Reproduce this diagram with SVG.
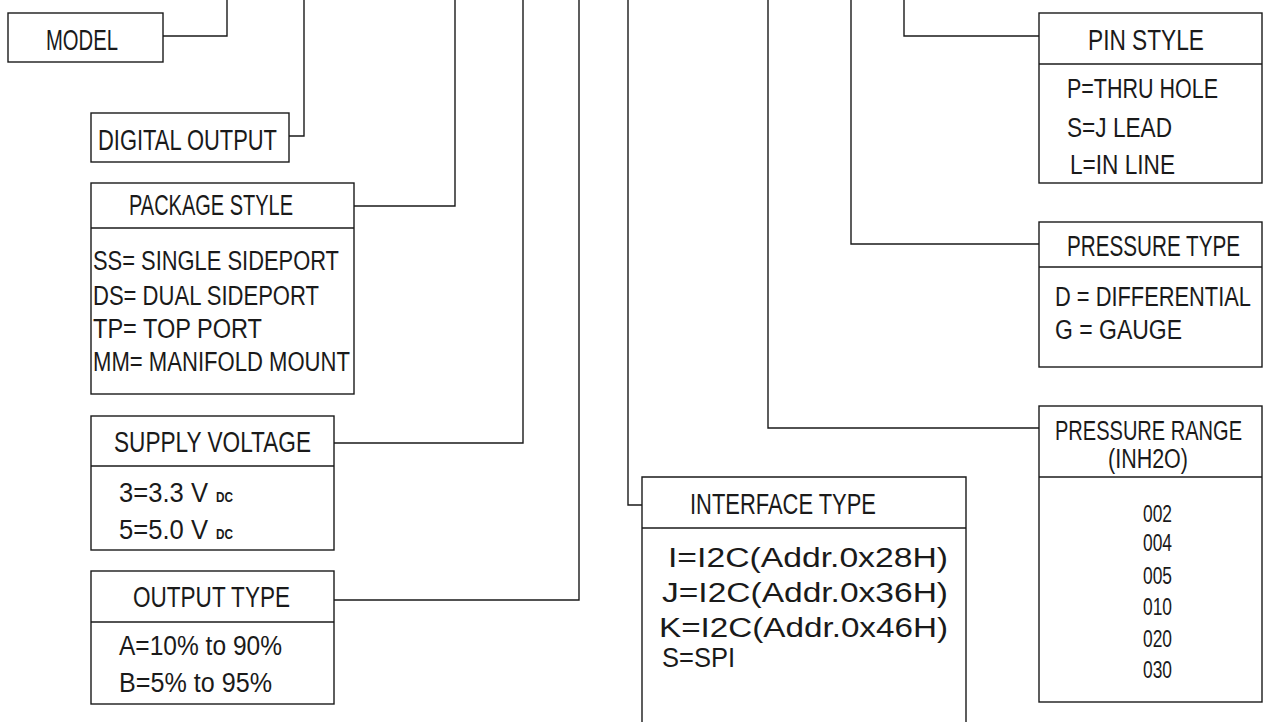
<svg xmlns="http://www.w3.org/2000/svg" width="1264" height="722" viewBox="0 0 1264 722">
<style>
.box{fill:none;stroke:#1a1a1a;stroke-width:1.4}
.ln{fill:none;stroke:#1a1a1a;stroke-width:1.4}
text{font-family:"Liberation Sans",Arial,sans-serif;fill:#1a1a1a}
.h{font-size:29px}
.hr{font-size:27px}
.b{font-size:27px}
.s{font-size:27px}
.n{font-size:23px}
.dc{font-size:14px;font-weight:bold}
</style>
<rect width="1264" height="722" fill="#ffffff"/>
<g id="connectors">
<polyline class="ln" points="163,36 227,36 227,0"/>
<polyline class="ln" points="289,136 304,136 304,0"/>
<polyline class="ln" points="354,206 455,206 455,0"/>
<polyline class="ln" points="334,443 523,443 523,0"/>
<polyline class="ln" points="334,600 579,600 579,0"/>
<polyline class="ln" points="642,505 628,505 628,0"/>
<polyline class="ln" points="1039,428 768,428 768,0"/>
<polyline class="ln" points="1039,244 851,244 851,0"/>
<polyline class="ln" points="1039,36 904,36 904,0"/>
</g>
<g id="model">
<rect class="box" x="8" y="13" width="155" height="49"/>
<text class="h" x="46" y="50" textLength="72" lengthAdjust="spacingAndGlyphs">MODEL</text>
</g>
<g id="digital-output">
<rect class="box" x="91" y="113" width="198" height="49"/>
<text class="h" x="98" y="150" textLength="179" lengthAdjust="spacingAndGlyphs">DIGITAL OUTPUT</text>
</g>
<g id="package-style">
<rect class="box" x="91" y="183" width="263" height="211"/>
<line class="ln" x1="91" y1="228" x2="354" y2="228"/>
<text class="h" x="129" y="215" textLength="164" lengthAdjust="spacingAndGlyphs">PACKAGE STYLE</text>
<text class="b" x="93" y="270" textLength="246" lengthAdjust="spacingAndGlyphs">SS= SINGLE SIDEPORT</text>
<text class="b" x="93" y="305" textLength="226" lengthAdjust="spacingAndGlyphs">DS= DUAL SIDEPORT</text>
<text class="b" x="93" y="338" textLength="169" lengthAdjust="spacingAndGlyphs">TP= TOP PORT</text>
<text class="b" x="93" y="371" textLength="257" lengthAdjust="spacingAndGlyphs">MM= MANIFOLD MOUNT</text>
</g>
<g id="supply-voltage">
<rect class="box" x="91" y="416" width="243" height="134"/>
<line class="ln" x1="91" y1="466" x2="334" y2="466"/>
<text class="h" x="114" y="452" textLength="197" lengthAdjust="spacingAndGlyphs">SUPPLY VOLTAGE</text>
<text class="b" x="119" y="502" textLength="89" lengthAdjust="spacingAndGlyphs">3=3.3 V</text>
<text class="dc" x="216" y="502" textLength="17" lengthAdjust="spacingAndGlyphs">DC</text>
<text class="b" x="119" y="539" textLength="89" lengthAdjust="spacingAndGlyphs">5=5.0 V</text>
<text class="dc" x="216" y="539" textLength="17" lengthAdjust="spacingAndGlyphs">DC</text>
</g>
<g id="output-type">
<rect class="box" x="91" y="571" width="243" height="133"/>
<line class="ln" x1="91" y1="622" x2="334" y2="622"/>
<text class="h" x="133" y="607" textLength="157" lengthAdjust="spacingAndGlyphs">OUTPUT TYPE</text>
<text class="b" x="119" y="655" textLength="163" lengthAdjust="spacingAndGlyphs">A=10% to 90%</text>
<text class="b" x="119" y="692" textLength="153" lengthAdjust="spacingAndGlyphs">B=5% to 95%</text>
</g>
<g id="interface-type">
<polyline class="ln" points="642,730 642,477 966,477 966,730"/>
<line class="ln" x1="642" y1="528" x2="966" y2="528"/>
<text class="h" x="690" y="514" textLength="186" lengthAdjust="spacingAndGlyphs">INTERFACE TYPE</text>
<text class="s" x="668" y="567" textLength="280" lengthAdjust="spacingAndGlyphs">I=I2C(Addr.0x28H)</text>
<text class="s" x="662" y="602" textLength="286" lengthAdjust="spacingAndGlyphs">J=I2C(Addr.0x36H)</text>
<text class="s" x="659" y="637" textLength="289" lengthAdjust="spacingAndGlyphs">K=I2C(Addr.0x46H)</text>
<text class="s" x="662" y="667" textLength="73" lengthAdjust="spacingAndGlyphs">S=SPI</text>
</g>
<g id="pin-style">
<rect class="box" x="1039" y="13" width="223" height="170"/>
<line class="ln" x1="1039" y1="64" x2="1262" y2="64"/>
<text class="h" x="1088" y="50" textLength="116" lengthAdjust="spacingAndGlyphs">PIN STYLE</text>
<text class="b" x="1067" y="98" textLength="151" lengthAdjust="spacingAndGlyphs">P=THRU HOLE</text>
<text class="b" x="1067" y="137" textLength="105" lengthAdjust="spacingAndGlyphs">S=J LEAD</text>
<text class="b" x="1070" y="174" textLength="105" lengthAdjust="spacingAndGlyphs">L=IN LINE</text>
</g>
<g id="pressure-type">
<rect class="box" x="1039" y="222" width="223" height="145"/>
<line class="ln" x1="1039" y1="267" x2="1262" y2="267"/>
<text class="h" x="1067" y="256" textLength="173" lengthAdjust="spacingAndGlyphs">PRESSURE TYPE</text>
<text class="b" x="1055" y="306" textLength="196" lengthAdjust="spacingAndGlyphs">D = DIFFERENTIAL</text>
<text class="b" x="1055" y="339" textLength="127" lengthAdjust="spacingAndGlyphs">G = GAUGE</text>
</g>
<g id="pressure-range">
<rect class="box" x="1039" y="406" width="223" height="296"/>
<line class="ln" x1="1039" y1="477" x2="1262" y2="477"/>
<text class="hr" x="1055" y="440" textLength="187" lengthAdjust="spacingAndGlyphs">PRESSURE RANGE</text>
<text class="hr" x="1108" y="468" textLength="80" lengthAdjust="spacingAndGlyphs">(INH2O)</text>
<text class="n" x="1143" y="522" textLength="29" lengthAdjust="spacingAndGlyphs">002</text>
<text class="n" x="1143" y="551" textLength="29" lengthAdjust="spacingAndGlyphs">004</text>
<text class="n" x="1143" y="584" textLength="29" lengthAdjust="spacingAndGlyphs">005</text>
<text class="n" x="1143" y="615" textLength="29" lengthAdjust="spacingAndGlyphs">010</text>
<text class="n" x="1143" y="647" textLength="29" lengthAdjust="spacingAndGlyphs">020</text>
<text class="n" x="1143" y="678" textLength="29" lengthAdjust="spacingAndGlyphs">030</text>
</g>
</svg>
